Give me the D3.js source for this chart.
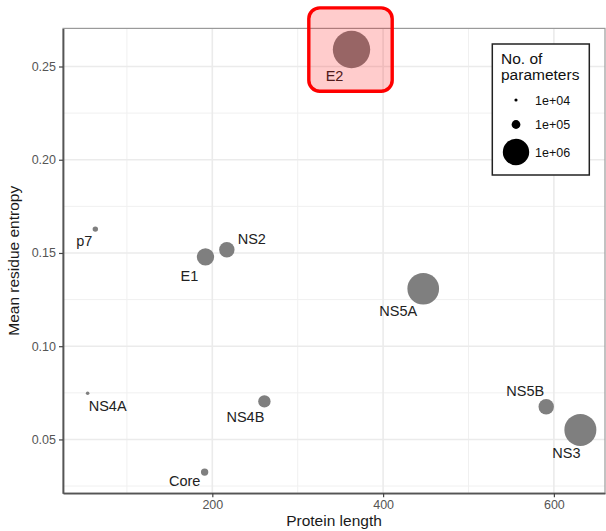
<!DOCTYPE html>
<html>
<head>
<meta charset="utf-8">
<script src="https://cdn.jsdelivr.net/npm/d3@7"></script>
<style>
  body { margin: 0; background: #fff; }
  svg text { font-family: 'Liberation Sans', Arial, sans-serif; }
</style>
</head>
<body>
<div id="chart"></div>
<script>
// data
const proteins = ['Core', 'E1', 'E2', 'p7', 'NS2', 'NS3', 'NS4A', 'NS4B', 'NS5A', 'NS5B']
const lengths = [191, 192, 363, 63, 217, 631, 54, 261, 447, 591]
const entropies = [0.0325, 0.1479, 0.2591, 0.1628, 0.1517, 0.0551, 0.0748, 0.0704, 0.1308, 0.0675]
const nParams = [6.9e4, 4.2e5, 2.03e6, 3.5e4, 3.3e5, 1.48e6, 1.35e4, 2.1e5, 1.45e6, 3.3e5]
const xTicks = [200, 400, 600]
const yTicks = [0.05, 0.10, 0.15, 0.20, 0.25]
const legendValues = [1e4, 1e5, 1e6]
const legendLabels = ['1e+04', '1e+05', '1e+06']
const highlighted = 'E2'

// label placement (repel-style offsets, px)
const labelOffset = {
  Core: [-20, 8.5], E1: [-16, 19], E2: [-17, 26], p7: [-11, 12], NS2: [25, -11],
  NS3: [-14, 23], NS4A: [20, 12.5], NS4B: [-19, 15], NS5A: [-25, 22], NS5B: [-21, -16]
}

const width = 606
const height = 531
const panel = { left: 63, right: 605, top: 28.4, bottom: 493.2 }

const data = proteins.map((p, i) => ({ name: p, len: lengths[i], ent: entropies[i], n: nParams[i] }))

const svg = d3.select('#chart').append('svg')
  .attr('width', width)
  .attr('height', height)

// ggplot-like 5% expansion
const xExt = d3.extent(lengths)
const yExt = d3.extent(entropies)
const xPad = (xExt[1] - xExt[0]) * 0.05
const yPad = (yExt[1] - yExt[0]) * 0.05

const xScale = d3.scaleLinear().domain([xExt[0] - xPad, xExt[1] + xPad]).range([panel.left, panel.right])
const yScale = d3.scaleLinear().domain([yExt[0] - yPad, yExt[1] + yPad]).range([panel.bottom, panel.top])
const rScale = d3.scaleSqrt().domain([0, 1e6]).range([0.3, 13.2])

// grid
const grid = svg.append('g')
const xMinor = [100, 300, 500]
const yMinor = [0.025, 0.075, 0.125, 0.175, 0.225]
grid.selectAll('.xminor').data(xMinor).join('line')
  .attr('x1', d => xScale(d)).attr('x2', d => xScale(d))
  .attr('y1', panel.top).attr('y2', panel.bottom)
  .attr('stroke', '#f0f0f0').attr('stroke-width', 1)
grid.selectAll('.yminor').data(yMinor).join('line')
  .attr('y1', d => yScale(d)).attr('y2', d => yScale(d))
  .attr('x1', panel.left).attr('x2', panel.right)
  .attr('stroke', '#f0f0f0').attr('stroke-width', 1)
grid.selectAll('.xmajor').data(xTicks).join('line')
  .attr('x1', d => xScale(d)).attr('x2', d => xScale(d))
  .attr('y1', panel.top).attr('y2', panel.bottom)
  .attr('stroke', '#ebebeb').attr('stroke-width', 1.6)
grid.selectAll('.ymajor').data(yTicks).join('line')
  .attr('y1', d => yScale(d)).attr('y2', d => yScale(d))
  .attr('x1', panel.left).attr('x2', panel.right)
  .attr('stroke', '#ebebeb').attr('stroke-width', 1.6)

// panel border
svg.append('rect')
  .attr('x', panel.left).attr('y', panel.top)
  .attr('width', panel.right - panel.left).attr('height', panel.bottom - panel.top)
  .attr('fill', 'none').attr('stroke', '#9a9a9a').attr('stroke-width', 1.2)

// axes
const xAxis = svg.append('g')
  .attr('transform', `translate(0,${panel.bottom})`)
  .call(d3.axisBottom(xScale).tickValues(xTicks).tickSizeInner(4).tickSizeOuter(0).tickPadding(3).tickFormat(d3.format('d')))
const yAxis = svg.append('g')
  .attr('transform', `translate(${panel.left},0)`)
  .call(d3.axisLeft(yScale).tickValues(yTicks).tickSizeInner(4).tickSizeOuter(0).tickPadding(3).tickFormat(d3.format('.2f')))

for (const ax of [xAxis, yAxis]) {
  ax.select('.domain').attr('stroke', '#555').attr('stroke-width', 1.8)
  ax.selectAll('.tick line').attr('stroke', '#444').attr('stroke-width', 1.2)
  ax.selectAll('.tick text').attr('fill', '#555').style('font-size', '12.5px')
}

// axis titles
svg.append('text')
  .attr('x', (panel.left + panel.right) / 2).attr('y', 526)
  .attr('text-anchor', 'middle').attr('fill', '#1a1a1a')
  .style('font-size', '15.5px').text('Protein length')
svg.append('text')
  .attr('transform', `translate(19,${(panel.top + panel.bottom) / 2}) rotate(-90)`)
  .attr('text-anchor', 'middle').attr('fill', '#1a1a1a')
  .style('font-size', '15.5px').text('Mean residue entropy')

// points
svg.append('g').selectAll('circle').data(data).join('circle')
  .attr('cx', d => xScale(d.len))
  .attr('cy', d => yScale(d.ent))
  .attr('r', d => rScale(d.n))
  .attr('fill', '#7f7f7f')

// labels
svg.append('g').selectAll('text').data(data).join('text')
  .attr('x', d => xScale(d.len) + labelOffset[d.name][0])
  .attr('y', d => yScale(d.ent) + labelOffset[d.name][1])
  .attr('dy', '0.36em')
  .attr('text-anchor', 'middle')
  .attr('fill', '#222')
  .style('font-size', '14.5px')
  .text(d => d.name)

// legend
const legend = svg.append('g')
legend.append('rect')
  .attr('x', 492.3).attr('y', 44).attr('width', 97).attr('height', 131)
  .attr('fill', '#fff').attr('stroke', '#222').attr('stroke-width', 1.5)
legend.append('text').attr('x', 501).attr('y', 64.3).style('font-size', '15.5px').attr('fill', '#111').text('No. of')
legend.append('text').attr('x', 501).attr('y', 80).style('font-size', '15.5px').attr('fill', '#111').text('parameters')
const keyY = [100, 124.5, 152]
legend.selectAll('circle').data(legendValues).join('circle')
  .attr('cx', 516).attr('cy', (d, i) => keyY[i])
  .attr('r', d => rScale(d))
  .attr('fill', '#000')
legend.selectAll('.klab').data(legendLabels).join('text')
  .attr('x', 535).attr('y', (d, i) => keyY[i]).attr('dy', '0.36em')
  .style('font-size', '12.5px').attr('fill', '#111')
  .text(d => d)

// highlight box around E2
const hl = data.find(d => d.name === highlighted)
const hs = 83.4
svg.append('rect')
  .attr('x', xScale(hl.len) - hs / 2 - 1).attr('y', yScale(hl.ent) - hs / 2)
  .attr('width', hs).attr('height', hs)
  .attr('rx', 11).attr('ry', 11)
  .attr('fill', 'rgba(255,0,0,0.2)')
  .attr('stroke', '#f00').attr('stroke-width', 3.4)
</script>
</body>
</html>
